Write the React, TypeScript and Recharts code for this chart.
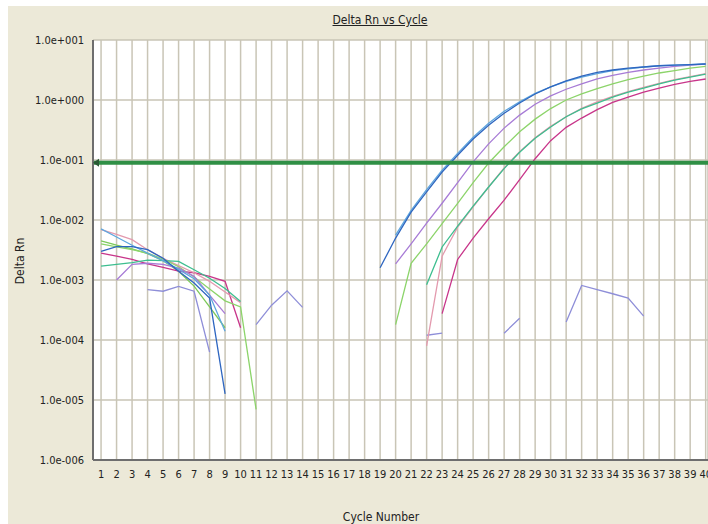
import React from "react";
import { LineChart, Line, XAxis, YAxis, CartesianGrid, ReferenceLine, ReferenceDot } from "recharts";

type Pt = [number, number];

const cycles = [1, 2, 3, 4, 5, 6, 7, 8, 9, 10, 11, 12, 13, 14, 15, 16, 17, 18, 19, 20, 21, 22, 23, 24, 25, 26, 27, 28, 29, 30, 31, 32, 33, 34, 35, 36, 37, 38, 39, 40];
const yTicks = [1e-6, 1e-5, 1e-4, 1e-3, 1e-2, 1e-1, 1, 10];
const yTickLabels = ["1.0e-006", "1.0e-005", "1.0e-004", "1.0e-003", "1.0e-002", "1.0e-001", "1.0e+000", "1.0e+001"];
const threshold = 0.09;

const title = "Delta Rn vs Cycle";
const xTitle = "Cycle Number";
const yTitle = "Delta Rn";

// NTC / noise well (lavender)
const lavender: Pt[] = [
  [4, 6.9e-4], [5, 6.5e-4], [6, 7.8e-4], [7, 6.5e-4], [8, 6.3e-5],
  [11, 1.8e-4], [12, 3.8e-4], [13, 6.6e-4], [14, 3.5e-4],
  [22, 1.2e-4], [23, 1.3e-4],
  [27, 1.3e-4], [28, 2.3e-4],
  [31, 2.0e-4], [32, 8.1e-4], [33, 6.9e-4], [34, 5.9e-4], [35, 5.0e-4], [36, 2.5e-4],
];

const green2: Pt[] = [
  [1, 4.5e-3], [2, 3.8e-3], [3, 3.3e-3], [4, 2.75e-3], [5, 2.1e-3], [6, 1.4e-3], [7, 7.9e-4], [8, 3.55e-4], [9, 1.6e-4],
];

const magenta: Pt[] = [
  [1, 2.8e-3], [2, 2.5e-3], [3, 2.2e-3], [4, 1.86e-3], [5, 1.62e-3], [6, 1.4e-3], [7, 1.32e-3], [8, 1.15e-3], [9, 9.5e-4], [10, 1.6e-4],
  [23, 2.75e-4], [24, 2.2e-3], [25, 5.0e-3], [26, 1.05e-2], [27, 2.14e-2], [28, 4.7e-2], [29, 0.105], [30, 0.21],
  [31, 0.35], [32, 0.5], [33, 0.69], [34, 0.91], [35, 1.12], [36, 1.35], [37, 1.58], [38, 1.82], [39, 2.04], [40, 2.24],
];

const pink: Pt[] = [
  [1, 6.9e-3], [2, 5.75e-3], [3, 4.7e-3], [4, 3.2e-3], [5, 2.3e-3], [6, 1.74e-3], [7, 1.32e-3], [8, 9.5e-4], [9, 6.3e-4], [10, 4.2e-4],
  [22, 8e-5], [23, 2.5e-3], [24, 7.6e-3], [25, 1.66e-2], [26, 3.55e-2], [27, 7.4e-2], [28, 0.138], [29, 0.234], [30, 0.363],
  [31, 0.525], [32, 0.724], [33, 0.93], [34, 1.15], [35, 1.38], [36, 1.62], [37, 1.9], [38, 2.19], [39, 2.45], [40, 2.75],
];

const teal: Pt[] = [
  [1, 1.7e-3], [2, 1.82e-3], [3, 1.95e-3], [4, 2.14e-3], [5, 2.1e-3], [6, 2.04e-3], [7, 1.48e-3], [8, 1.07e-3], [9, 7.2e-4], [10, 4.4e-4],
  [22, 8.3e-4], [23, 3.55e-3], [24, 7.9e-3], [25, 1.7e-2], [26, 3.55e-2], [27, 7.2e-2], [28, 0.135], [29, 0.23], [30, 0.355],
  [31, 0.525], [32, 0.71], [33, 0.89], [34, 1.12], [35, 1.35], [36, 1.58], [37, 1.86], [38, 2.14], [39, 2.4], [40, 2.69],
];

const lightGreen: Pt[] = [
  [1, 4.0e-3], [2, 3.55e-3], [3, 3.2e-3], [4, 2.8e-3], [5, 2.24e-3], [6, 1.66e-3], [7, 1.12e-3], [8, 7.1e-4], [9, 4.5e-4], [10, 3.55e-4], [11, 7e-6],
  [20, 1.8e-4], [21, 1.9e-3], [22, 4.0e-3], [23, 8.7e-3], [24, 1.9e-2], [25, 4.2e-2], [26, 8.9e-2], [27, 0.166], [28, 0.295], [29, 0.48], [30, 0.72],
  [31, 1.0], [32, 1.26], [33, 1.55], [34, 1.86], [35, 2.19], [36, 2.51], [37, 2.82], [38, 3.09], [39, 3.39], [40, 3.63],
];

const purple: Pt[] = [
  [2, 1.0e-3], [3, 1.82e-3], [4, 1.9e-3], [5, 1.82e-3], [6, 1.58e-3], [7, 1.15e-3], [8, 5.6e-4], [9, 2.75e-4],
  [20, 1.86e-3], [21, 4.0e-3], [22, 8.9e-3], [23, 1.9e-2], [24, 4.2e-2], [25, 9.3e-2], [26, 0.186], [27, 0.34], [28, 0.56], [29, 0.85], [30, 1.17],
  [31, 1.51], [32, 1.86], [33, 2.24], [34, 2.57], [35, 2.88], [36, 3.16], [37, 3.39], [38, 3.63], [39, 3.8], [40, 3.98],
];

const lightBlue: Pt[] = [
  [1, 7.1e-3], [2, 5.2e-3], [3, 3.8e-3], [4, 2.8e-3], [5, 2.1e-3], [6, 1.5e-3], [7, 1.05e-3], [8, 5.6e-4], [9, 1.4e-4],
  [20, 5.6e-3], [21, 1.45e-2], [22, 3.2e-2], [23, 6.8e-2], [24, 0.129], [25, 0.24], [26, 0.41], [27, 0.65], [28, 0.93], [29, 1.29], [30, 1.66],
  [31, 2.04], [32, 2.4], [33, 2.75], [34, 3.09], [35, 3.31], [36, 3.55], [37, 3.72], [38, 3.8], [39, 3.89], [40, 3.98],
];

const blue: Pt[] = [
  [1, 3.0e-3], [2, 3.6e-3], [3, 3.6e-3], [4, 3.2e-3], [5, 2.3e-3], [6, 1.4e-3], [7, 8.9e-4], [8, 5.0e-4], [9, 1.26e-5],
  [19, 1.6e-3], [20, 5.0e-3], [21, 1.35e-2], [22, 2.95e-2], [23, 6.3e-2], [24, 0.12], [25, 0.224], [26, 0.38], [27, 0.6], [28, 0.89], [29, 1.26], [30, 1.66],
  [31, 2.09], [32, 2.51], [33, 2.88], [34, 3.16], [35, 3.39], [36, 3.55], [37, 3.72], [38, 3.8], [39, 3.89], [40, 3.98],
];

const seriesList: { key: string; color: string; pts: Pt[] }[] = [
  { key: "lavender", color: "#8E8ED8", pts: lavender },
  { key: "green2", color: "#7CC95A", pts: green2 },
  { key: "magenta", color: "#C8358A", pts: magenta },
  { key: "pink", color: "#E39AAE", pts: pink },
  { key: "teal", color: "#3DBE8F", pts: teal },
  { key: "lightGreen", color: "#8CD46A", pts: lightGreen },
  { key: "purple", color: "#A77BD6", pts: purple },
  { key: "lightBlue", color: "#5EA6DE", pts: lightBlue },
  { key: "blue", color: "#2E66C0", pts: blue },
];

const rows = cycles.map((c) => {
  const r: Record<string, number | null> = { cycle: c };
  for (const s of seriesList) {
    const f = s.pts.find((p) => p[0] === c);
    r[s.key] = f ? f[1] : null;
  }
  return r;
});

const FONT = "'Liberation Sans Narrow', 'Arial Narrow', 'DejaVu Sans Condensed', sans-serif";
const labelFor = (v: number) => {
  const i = yTicks.findIndex((t) => Math.abs(Math.log10(t) - Math.log10(v)) < 1e-6);
  return i >= 0 ? yTickLabels[i] : "";
};

export default function App() {
  return (
    <div style={{ position: "absolute", left: 0, top: 0, width: 708, height: 524, background: "#ffffff", overflow: "hidden" }}>
      <div style={{ position: "absolute", left: 8, top: 6, width: 700, height: 518, background: "#ECE9D8", fontFamily: FONT, color: "#222" }}>
        <LineChart width={700} height={518} data={rows} margin={{ top: 34, right: 0, left: 0, bottom: 0 }}>
          <CartesianGrid stroke="#C9C5B6" strokeWidth={1.5} fill="#ffffff" />
          <XAxis
            dataKey="cycle"
            type="number"
            domain={[0.48, 40.15]}
            ticks={cycles}
            interval={0}
            allowDataOverflow
            height={64}
            tickLine={false}
            tickMargin={4}
            stroke="#6E6E6E"
            strokeWidth={2}
            tick={{ fontSize: 11, fill: "#222", fontFamily: FONT }}
          />
          <YAxis
            type="number"
            scale="log"
            domain={[1e-6, 10]}
            ticks={yTicks}
            allowDataOverflow
            width={85}
            tickLine={false}
            tickMargin={3}
            stroke="#6E6E6E"
            strokeWidth={2}
            tickFormatter={labelFor}
            tick={{ fontSize: 11, fill: "#222", fontFamily: FONT }}
          />
          {seriesList.map((s) => (
            <Line
              key={s.key}
              dataKey={s.key}
              stroke={s.color}
              strokeWidth={1.3}
              dot={false}
              activeDot={false}
              connectNulls={false}
              isAnimationActive={false}
            />
          ))}
          <ReferenceLine y={threshold} stroke="#2F8F45" strokeWidth={4} />
          <ReferenceDot
            x={0.48}
            y={threshold}
            ifOverflow="visible"
            shape={(p: any) => (
              <path d={`M${p.cx} ${p.cy} l6 -4 l0 8 z`} fill="#2A5A35" />
            )}
          />
        </LineChart>
        <div style={{ position: "absolute", left: 272, top: 7, width: 200, textAlign: "center", fontSize: 12, lineHeight: "14px", textDecoration: "underline" }}>
          {title}
        </div>
        <div style={{ position: "absolute", left: 273, top: 504, width: 200, textAlign: "center", fontSize: 12, lineHeight: "14px" }}>
          {xTitle}
        </div>
        <div style={{ position: "absolute", left: -28, top: 248, width: 80, height: 14, textAlign: "center", fontSize: 12, lineHeight: "14px", transform: "rotate(-90deg)" }}>
          {yTitle}
        </div>
      </div>
    </div>
  );
}
